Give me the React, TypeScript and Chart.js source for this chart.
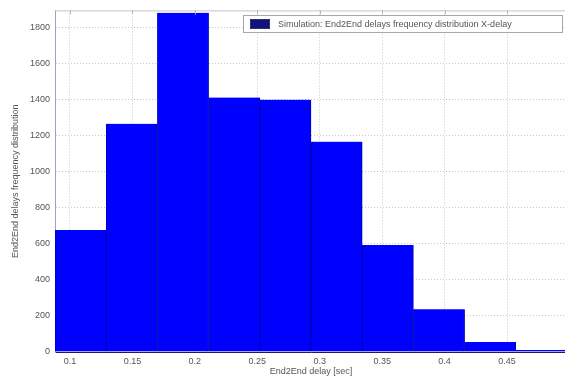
import React, { useEffect, useRef } from "react";
import { Chart, registerables } from "chart.js";

Chart.register(...registerables);

// Histogram of end-to-end delays: bin centres (seconds) and counts per bin
const binCenters = [0.1085, 0.1495, 0.1905, 0.2315, 0.2725, 0.3135, 0.3545, 0.3955, 0.4365, 0.4775];
const counts = [677, 1266, 1882, 1412, 1400, 1167, 594, 237, 55, 11];

const xTicks = [0.1, 0.15, 0.2, 0.25, 0.3, 0.35, 0.4, 0.45];
const yTicks = [0, 200, 400, 600, 800, 1000, 1200, 1400, 1600, 1800];

const X_MIN = 0.088;
const X_MAX = 0.498;
const Y_MAX = 1895;

const LEGEND_LABEL = "Simulation: End2End delays frequency distribution X-delay";
const X_TITLE = "End2End delay [sec]";
const Y_TITLE = "End2End delays frequency distribution";

const FONT = "'Liberation Sans', Arial, sans-serif";

// Boxed legend in the upper right of the axes plus the top frame line and its tick marks
const framePlugin = {
  id: "frame",
  afterDraw(chart: any) {
    const { ctx, chartArea } = chart;
    const xs = chart.scales.x;
    ctx.save();
    ctx.strokeStyle = "#c4c4c4";
    ctx.lineWidth = 1;
    ctx.beginPath();
    ctx.moveTo(chartArea.left, chartArea.top + 0.5);
    ctx.lineTo(chartArea.right, chartArea.top + 0.5);
    ctx.stroke();
    ctx.strokeStyle = "#b8b8b8";
    xTicks.forEach((v) => {
      const px = Math.round(xs.getPixelForValue(v)) + 0.5;
      ctx.beginPath();
      ctx.moveTo(px, chartArea.top);
      ctx.lineTo(px, chartArea.top + 4);
      ctx.stroke();
    });

    // legend box
    const bx = 243.5, by = 15.5, bw = 319, bh = 17;
    ctx.fillStyle = "#ffffff";
    ctx.fillRect(bx, by, bw, bh);
    ctx.strokeStyle = "#a8a8a8";
    ctx.strokeRect(bx, by, bw, bh);
    ctx.fillStyle = "#14137a";
    ctx.fillRect(250, 19, 20, 10);
    ctx.strokeStyle = "#30306a";
    ctx.strokeRect(250.5, 19.5, 19, 9);
    ctx.fillStyle = "#555555";
    ctx.font = `9px ${FONT}`;
    ctx.textBaseline = "middle";
    ctx.textAlign = "left";
    ctx.fillText(chart.data.datasets[0].label, 278, 24.5);
    ctx.restore();
  },
};

export default function App() {
  const canvasRef = useRef<HTMLCanvasElement | null>(null);

  useEffect(() => {
    const prevMargin = document.body.style.margin;
    document.body.style.margin = "0";
    const canvas = canvasRef.current;
    if (!canvas) return;
    const chart = new Chart(canvas, {
      type: "bar",
      data: {
        datasets: [
          {
            label: LEGEND_LABEL,
            data: binCenters.map((x, i) => ({ x, y: counts[i] })),
            backgroundColor: "#0000ff",
            borderColor: "#0000b4",
            borderWidth: { left: 1, right: 1, top: 0, bottom: 0 },
            barPercentage: 1,
            categoryPercentage: 1,
          },
        ],
      },
      plugins: [framePlugin],
      options: {
        responsive: false,
        animation: false,
        devicePixelRatio: 1,
        layout: { padding: { top: 8, right: 1, left: 0, bottom: 0 } },
        plugins: {
          legend: { display: false },
          tooltip: { enabled: false },
        },
        scales: {
          x: {
            type: "linear",
            min: X_MIN,
            max: X_MAX,
            offset: false,
            afterFit: (s: any) => {
              s.height = 31;
            },
            afterBuildTicks: (s: any) => {
              s.ticks = xTicks.map((v) => ({ value: v }));
            },
            ticks: {
              includeBounds: false,
              padding: 4,
              color: "#555555",
              font: { family: FONT, size: 9 },
              maxRotation: 0,
              callback: (v: any) => String(Number(v)),
            },
            grid: {
              offset: false,
              drawTicks: false,
              color: "#c8c8c8",
              lineWidth: 1,
            },
            border: { display: true, color: "#1a1a60", width: 1, dash: [1, 2] },
            title: {
              display: true,
              text: X_TITLE,
              color: "#555555",
              font: { family: FONT, size: 9 },
              padding: { top: 0, bottom: 6 },
            },
          },
          y: {
            type: "linear",
            min: 0,
            max: Y_MAX,
            afterFit: (s: any) => {
              s.width = 55;
            },
            afterBuildTicks: (s: any) => {
              s.ticks = yTicks.map((v) => ({ value: v }));
            },
            ticks: {
              padding: 5,
              color: "#555555",
              font: { family: FONT, size: 9 },
              callback: (v: any) => String(Number(v)),
            },
            grid: {
              drawTicks: false,
              color: "#c8c8c8",
              lineWidth: 1,
            },
            border: { display: true, color: "#a0a0c0", width: 1, dash: [1, 2] },
            title: {
              display: true,
              text: Y_TITLE,
              color: "#555555",
              font: { family: FONT, size: 9 },
              padding: { top: 10, bottom: 0 },
            },
          },
        },
      },
    } as any);
    return () => {
      chart.destroy();
      document.body.style.margin = prevMargin;
    };
  }, []);

  return (
    <div
      style={{
        position: "fixed",
        left: 0,
        top: 0,
        width: 565,
        height: 383,
        overflow: "hidden",
        background: "#ffffff",
      }}
    >
      <canvas ref={canvasRef} width={568} height={383} style={{ display: "block" }} />
    </div>
  );
}
